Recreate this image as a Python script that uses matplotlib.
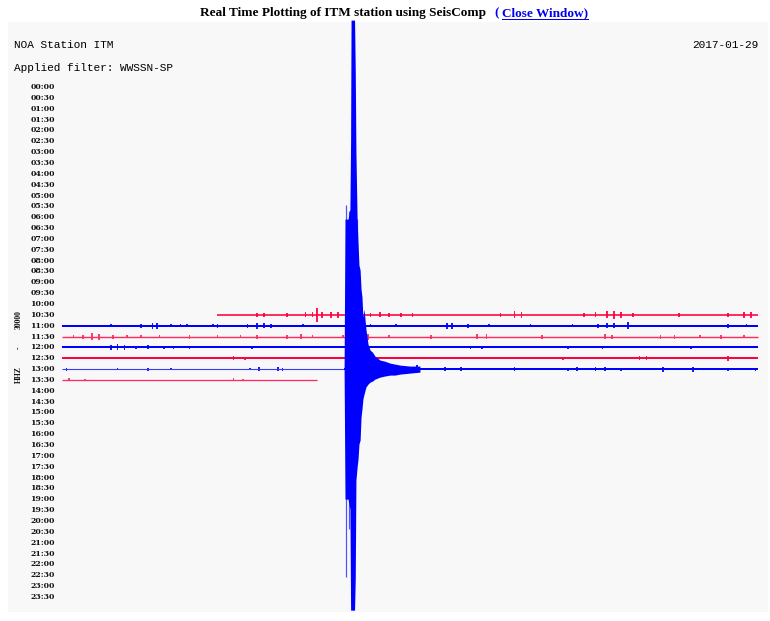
import matplotlib.pyplot as plt
from matplotlib.lines import Line2D

W, H = 770, 621

# one helicorder line per 30 minutes
row_labels = [f"{h:02d}:{m:02d}" for h in range(24) for m in (0, 30)]

# traces that hold data: row start (hours), first/last minute, colour
trace_rows = [10.5, 11.0, 11.5, 12.0, 12.5, 13.0, 13.5]
trace_first = [6.7, 0.0, 0.0, 0.0, 0.0, 0.0, 0.0]
trace_last = [30.0, 30.0, 30.0, 30.0, 30.0, 30.0, 11.0]
trace_colors = ["#ff0040", "#0000ff", "#ff2a60", "#0000ff", "#ff0040", "#3a3aff", "#ff2a60"]
trace_widths = [1.6, 2.0, 1.4, 2.0, 2.0, 1.1, 1.3]

# noise bursts per trace: (minute, amplitude in counts)
bursts_1030 = [(8.4, 2), (8.7, 2), (9.7, 2), (10.5, 2.5), (10.8, 2.5), (11.0, 7), (11.2, 3),
               (11.6, 3), (11.9, 3), (13.3, 2), (13.7, 2.5), (14.1, 2), (14.6, 2), (15.1, 2),
               (18.9, 2), (19.5, 3.5), (19.8, 3), (22.5, 2), (23.0, 2.5), (23.5, 3.5),
               (23.8, 4), (24.1, 3), (24.6, 2), (26.6, 2), (28.7, 2), (29.4, 3), (29.7, 3)]
bursts_1100 = [(2.1, 1.5), (3.4, 2), (3.9, 3), (4.1, 3), (4.7, 1.5), (5.1, 1.5), (5.4, 1.5),
               (6.5, 1.5), (6.7, 2), (8.0, 2), (8.4, 3), (8.7, 2.5), (9.0, 2), (10.4, 1.5),
               (13.3, 1.5), (14.4, 1.5), (16.6, 3), (16.8, 3), (17.5, 2), (18.4, 1.5),
               (20.2, 1.5), (22.0, 1.5), (23.1, 2), (23.5, 2.5), (23.8, 2.5), (24.4, 3.5),
               (28.7, 2), (29.5, 1.5)]
bursts_1130 = [(0.5, 1.5), (0.9, 2), (1.3, 3.5), (1.6, 3), (2.2, 2), (2.8, 1.5), (3.4, 1.5),
               (4.2, 1.5), (5.5, 2), (6.7, 1.5), (7.7, 1.5), (8.4, 2), (9.7, 2), (10.3, 2.5),
               (10.8, 1.5), (12.1, 1.5), (13.2, 3), (14.1, 1.5), (15.9, 2), (17.9, 2.5),
               (18.3, 2.5), (20.7, 2), (23.4, 2.5), (23.7, 2), (25.8, 2), (26.4, 2),
               (27.5, 1.5), (28.4, 2), (29.4, 1.5)]
bursts_1200 = [(2.1, 2.5), (2.4, 3), (2.7, 2.5), (3.2, 1.5), (3.7, 2), (4.4, 1.5), (4.8, 1.5),
               (5.5, 1.5), (8.2, 1.5), (12.9, 1.5), (17.6, 1.5), (18.1, 1.5), (21.8, 1.5),
               (23.3, 1.5), (27.1, 1.5)]
bursts_1230 = [(7.4, 2), (7.9, 1.5), (21.6, 1.5), (24.9, 2), (25.2, 2), (28.7, 2.5)]
bursts_1300 = [(0.2, 1.5), (2.4, 1), (3.7, 1.5), (4.7, 1), (8.1, 1), (8.5, 2), (9.3, 2),
               (9.5, 1.5), (15.3, 4), (16.5, 2), (17.2, 2), (19.5, 2), (21.8, 1.5), (22.2, 2),
               (23.0, 2), (23.4, 2), (24.1, 1.5), (25.9, 2.5), (27.2, 2.5), (28.7, 1.5),
               (29.9, 1.5)]
bursts_1330 = [(0.3, 1.5), (1.0, 1.2), (7.4, 1.5), (7.8, 1.2)]
all_bursts = [bursts_1030, bursts_1100, bursts_1130, bursts_1200, bursts_1230, bursts_1300, bursts_1330]

# the earthquake on the 13:00 line: minute, upward and downward extent (counts)
event_row = 13.0
event_t = [12.16, 12.20, 12.33, 12.41, 12.44, 12.46, 12.61, 12.64, 12.67, 12.72, 12.76,
           12.80, 12.85, 12.89, 12.93, 12.97, 13.02, 13.10, 13.19, 13.28, 13.38, 13.49,
           13.60, 13.71, 13.90, 14.14, 14.35, 14.57, 15.00, 15.43]
event_up = [3, 150, 150, 160, 229, 349, 349, 300, 216, 150, 126, 104, 99, 80, 72, 52, 60,
            40, 25, 19, 17, 13, 11, 9, 8, 6, 5, 4, 3, 3]
event_down = [3, 130, 130, 140, 241, 241, 241, 210, 111, 98, 90, 75, 71, 48, 40, 30, 25,
              18, 15, 13, 12, 10, 9, 8, 7, 6, 6, 5, 4, 3]
# lighter single spikes around the first arrivals: minute, up, down
spike_t = [12.24, 12.37, 12.54, 12.72]
spike_up = [164, 158, 330, 150]
spike_down = [208, 160, 241, 71]

COUNT = 1 / 21.7  # hours of plot per count
PX = 72 / 100

fig = plt.figure(figsize=(W / 100, H / 100), dpi=100)
ax = fig.add_axes([8 / W, 1 - 612 / H, 760 / W, 590 / H])
ax.set_facecolor("#f8f8f8")
ax.set_xlim(-54 / 23.2, 30 + 10 / 23.2)
ax.set_ylim(525 / 21.7, -65 / 21.7)
ax.set_xticks([])
ax.set_yticks([])
for s in ax.spines.values():
    s.set_visible(False)

for i, lab in enumerate(row_labels):
    ax.text(-0.30, i * 0.5, lab, ha="right", va="center", fontsize=5.6,
            fontweight="bold", family="DejaVu Serif", color="#111111")

# helicorder lines
for row, t0, t1, c, lw, bursts in zip(trace_rows, trace_first, trace_last,
                                      trace_colors, trace_widths, all_bursts):
    if row == event_row:
        ax.plot([t0, event_t[0]], [row, row], color=c, lw=lw * PX, solid_capstyle="butt")
        ax.plot([event_t[0], t1], [row, row], color="#0000ff", lw=2.0 * PX,
                solid_capstyle="butt")
    else:
        ax.plot([t0, t1], [row, row], color=c, lw=lw * PX, solid_capstyle="butt")
    for t, a in bursts:
        ax.bar(t, 2 * a * COUNT, bottom=row - a * COUNT, width=0.07,
               color=c if row != event_row else "#0000ff", lw=0, alpha=0.9)

# the quake
ax.fill_between(event_t, [event_row - u * COUNT for u in event_up],
                [event_row + d * COUNT for d in event_down],
                color="#0000ff", lw=0, zorder=5, clip_on=False)
ax.vlines(spike_t, [event_row - u * COUNT for u in spike_up],
          [event_row + d * COUNT for d in spike_down],
          color="#5050ff", lw=1.2 * PX, zorder=4, clip_on=False)

# header
mono = "Liberation Mono"
fig.text(14 / W, 1 - 45 / H, "NOA Station ITM", family=mono, fontsize=8.0, va="center")
fig.text(758 / W, 1 - 45 / H, "2017-01-29", family=mono, fontsize=8.0, va="center", ha="right")
fig.text(14 / W, 1 - 68 / H, "Applied filter: WWSSN-SP", family=mono, fontsize=8.0, va="center")

fig.text(200 / W, 1 - 13 / H, "Real Time Plotting of ITM station using SeisComp",
         family="Liberation Serif", fontweight="bold", fontsize=9.5, va="center")
fig.text(494 / W, 1 - 13 / H, "(", family="Liberation Serif", fontweight="bold",
         fontsize=9.5, va="center", color="#0000ee")
link = fig.text(502 / W, 1 - 13 / H, "Close Window)", family="Liberation Serif",
                fontweight="bold", fontsize=9.5, va="center", color="#0000ee")

# channel name, rotated
side = dict(family="Liberation Serif", fontweight="bold", fontsize=5.5, rotation=90,
            ha="center", va="center", color="#111111")
fig.text(19 / W, 1 - 320 / H, "30000", **side)
fig.text(19 / W, 1 - 348 / H, "-", **side)
fig.text(19 / W, 1 - 375 / H, "HHZ", **side)

fig.canvas.draw()
bb = link.get_window_extent()
y_line = (bb.y0 + 0.5) / H
fig.add_artist(Line2D([bb.x0 / W, bb.x1 / W], [y_line, y_line], color="#0000ee",
                      lw=1.0 * PX, transform=fig.transFigure))

fig.savefig("out.png", dpi=100)
